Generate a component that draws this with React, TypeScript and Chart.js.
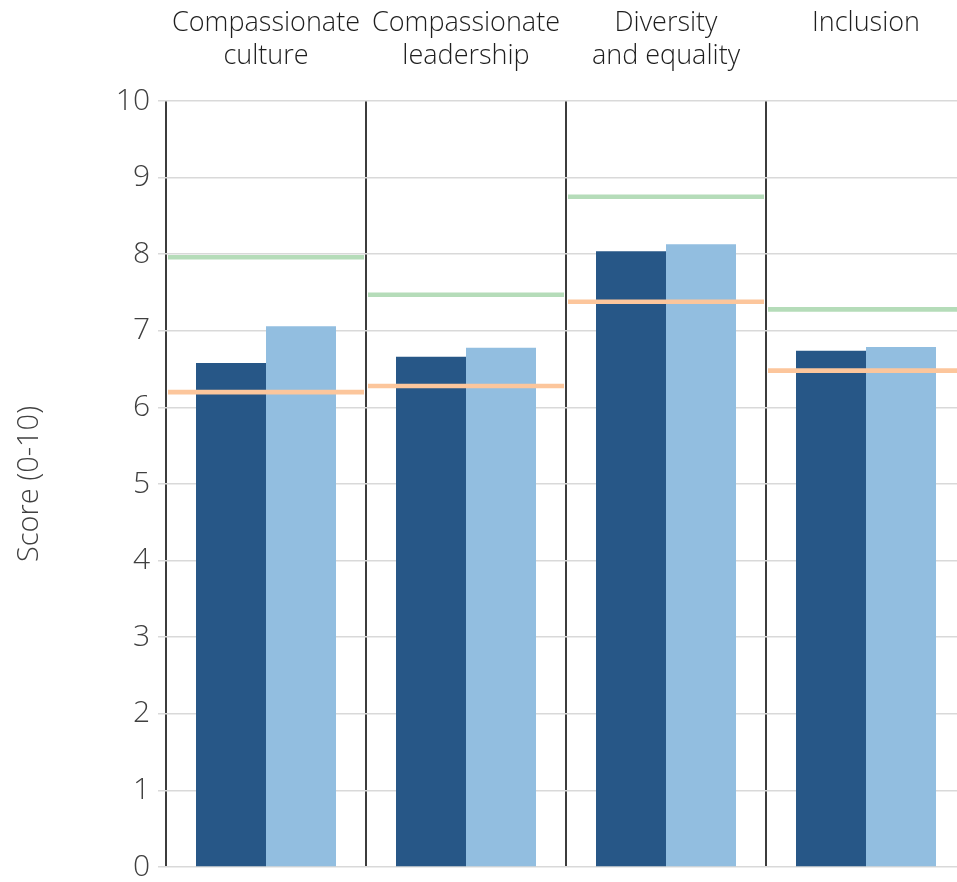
import React, { useEffect, useRef } from "react";
import { Chart, registerables } from "chart.js";

Chart.register(...registerables);

const categories: string[][] = [
  ["Compassionate", "culture"],
  ["Compassionate", "leadership"],
  ["Diversity", "and equality"],
  ["Inclusion", ""],
];
const darkValues = [6.58, 6.66, 8.04, 6.74];
const lightValues = [7.06, 6.78, 8.13, 6.79];
const greenValues = [7.96, 7.47, 8.75, 7.28];
const orangeValues = [6.2, 6.28, 7.38, 6.48];
const yTickValues = [0, 1, 2, 3, 4, 5, 6, 7, 8, 9, 10];
const yTitle = "Score (0-10)";

const LINE_HALF = 0.03;
const FONT = "'Open Sans', sans-serif";

export default function App() {
  const ref = useRef<HTMLCanvasElement | null>(null);

  useEffect(() => {
    if (!ref.current) return;
    const toRange = (arr: number[]) => arr.map((v) => [v - LINE_HALF, v + LINE_HALF]);
    const chart = new Chart(ref.current, {
      type: "bar",
      data: {
        labels: categories,
        datasets: [
          {
            label: "Benchmark high",
            data: toRange(greenValues) as any,
            backgroundColor: "#b5dcb9",
            grouped: false,
            categoryPercentage: 0.98,
            barPercentage: 1,
            borderWidth: 0,
            order: 0,
          } as any,
          {
            label: "Benchmark low",
            data: toRange(orangeValues) as any,
            backgroundColor: "#fcc69c",
            grouped: false,
            categoryPercentage: 0.98,
            barPercentage: 1,
            borderWidth: 0,
            order: 0,
          } as any,
          {
            label: "Organisation",
            data: darkValues,
            backgroundColor: "#275787",
            categoryPercentage: 0.7,
            barPercentage: 1,
            borderWidth: 0,
            order: 1,
          },
          {
            label: "Comparator",
            data: lightValues,
            backgroundColor: "#92bee0",
            categoryPercentage: 0.7,
            barPercentage: 1,
            borderWidth: 0,
            order: 1,
          },
        ],
      },
      options: {
        responsive: false,
        animation: false,
        layout: { padding: 0 },
        plugins: {
          legend: { display: false },
          tooltip: { enabled: false },
        },
        scales: {
          x: {
            position: "top",
            offset: true,
            afterFit: (scale: any) => {
              scale.height = 101;
            },
            grid: {
              offset: true,
              color: "#3c3c3c",
              lineWidth: 2,
              drawTicks: false,
            },
            border: { display: false },
            ticks: {
              color: "#1e1e1e",
              font: { family: FONT, size: 27, weight: "300", lineHeight: 1.22 },
              padding: 28,
              maxRotation: 0,
              autoSkip: false,
            },
          },
          y: {
            min: 0,
            max: 10,
            afterBuildTicks: (scale: any) => {
              scale.ticks = yTickValues.map((v) => ({ value: v }));
            },
            afterFit: (scale: any) => {
              scale.width = 166;
              scale.paddingTop = 0;
              scale.paddingBottom = 15;
            },
            grid: {
              color: "#d9d9d9",
              lineWidth: 1.5,
              tickLength: 8,
            },
            border: { display: false },
            ticks: {
              color: "#404040",
              font: { family: FONT, size: 30, weight: "300" },
              padding: 8,
            },
            title: {
              display: true,
              text: yTitle,
              color: "#404040",
              font: { family: FONT, size: 29, weight: "300" },
              padding: { top: 12, bottom: 0 },
            },
          },
        },
      },
    });
    return () => chart.destroy();
  }, []);

  return (
    <div
      style={{
        position: "absolute",
        left: 0,
        top: 0,
        width: 957,
        height: 882,
        overflow: "hidden",
        background: "#fff",
      }}
    >
      <canvas ref={ref} width={966} height={882} style={{ display: "block" }} />
    </div>
  );
}
